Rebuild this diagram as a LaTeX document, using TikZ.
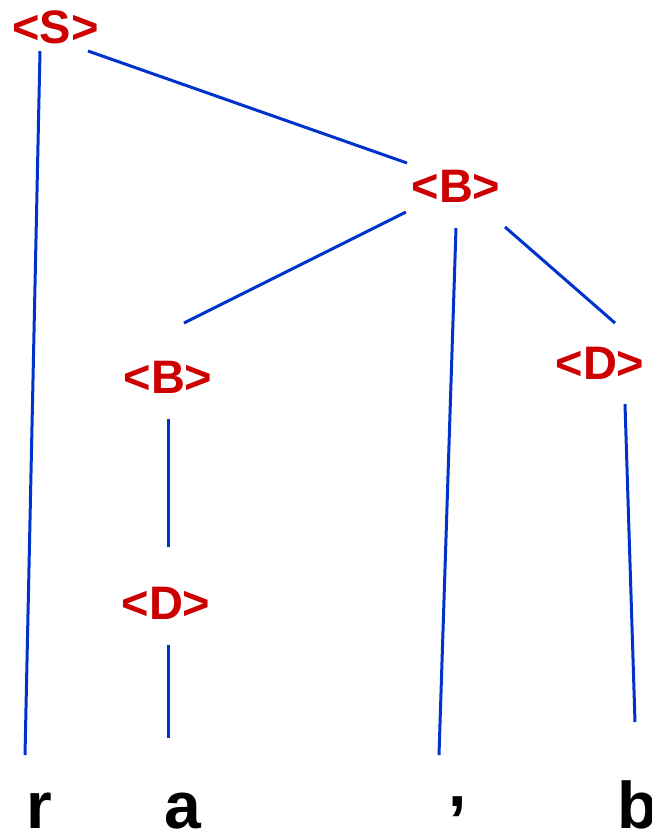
\documentclass[tikz,border=0pt]{standalone}
\usepackage{fontspec}
\setmainfont{Liberation Sans}
\definecolor{nodered}{RGB}{204,0,0}
\definecolor{edgeblue}{RGB}{0,51,204}
\begin{document}
\begin{tikzpicture}[x=1pt,y=-1pt,
  cat/.style={anchor=base,inner sep=0pt,text=nodered,font=\fontsize{47}{50}\selectfont\bfseries},
  leaf/.style={anchor=base,inner sep=0pt,text=black,font=\fontsize{66}{70}\selectfont\bfseries},
  edge/.style={draw=edgeblue,line width=3pt}]
\useasboundingbox (0,0) rectangle (652,831);
% category nodes
\node[cat] (S) at (55.5,43) {<S>};
\node[cat] (B1) at (456,202.5) {<B>};
\node[cat] (B2) at (168,393) {<B>};
\node[cat] (D1) at (600,379) {<D>};
\node[cat] (D2) at (166,619) {<D>};
% leaves
\node[leaf] (r) at (39,828) {r};
\node[leaf] (a) at (183,828) {a};
\node[leaf] (c) at (458,806) {,};
\node[leaf] (b) at (638,828) {b};
% connector end points
\coordinate (Sr1) at (40,51);
\coordinate (Sr2) at (25,755);
\coordinate (SB1) at (88,51);
\coordinate (SB2) at (407,163);
\coordinate (BB1) at (406,212);
\coordinate (BB2) at (184,323);
\coordinate (Bc1) at (456,228);
\coordinate (Bc2) at (439,755);
\coordinate (BD1) at (505,227);
\coordinate (BD2) at (615,323);
\coordinate (Db1) at (625,404);
\coordinate (Db2) at (635,722);
\coordinate (BD3) at (168,419);
\coordinate (BD4) at (168,547);
\coordinate (Da1) at (168,645);
\coordinate (Da2) at (168,738);
\draw[edge] (Sr1) -- (Sr2);
\draw[edge] (SB1) -- (SB2);
\draw[edge] (BB1) -- (BB2);
\draw[edge] (Bc1) -- (Bc2);
\draw[edge] (BD1) -- (BD2);
\draw[edge] (Db1) -- (Db2);
\draw[edge] (BD3) -- (BD4);
\draw[edge] (Da1) -- (Da2);
\end{tikzpicture}
\end{document}
